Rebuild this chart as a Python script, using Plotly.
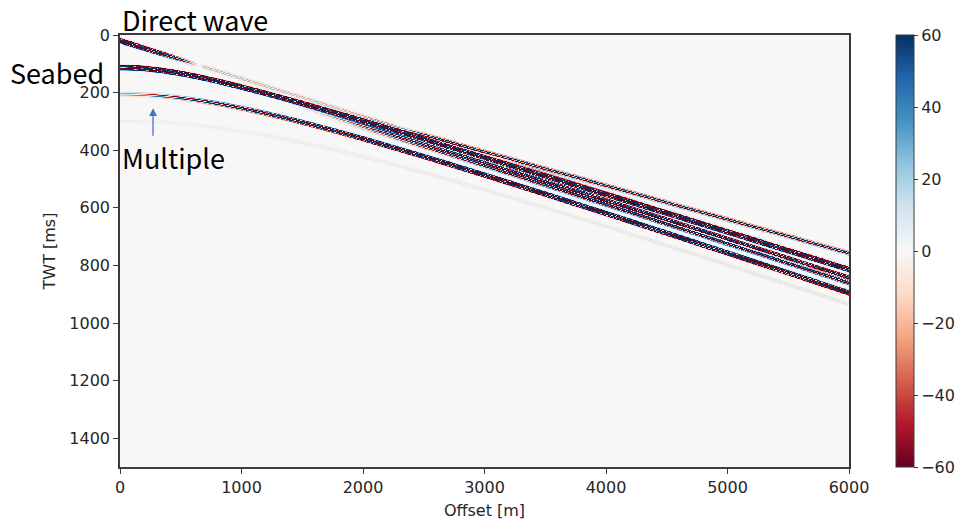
import numpy as np
import plotly.graph_objects as go

# ---- acquisition grid -------------------------------------------------------
offset_max = 6000.0          # m
twt_max = 1500.0             # ms
d_offset = 10.0              # m
d_twt = 1.0                  # ms

# ---- seismic events -----------------------------------------------------------
# kind: "lin" -> t = t0 + x / v ; "hyp" -> t = delay + sqrt(t0^2 + (x/v)^2)
event_names = ["direct", "head", "seabed", "sub1", "sub2", "multiple", "multiple2"]
event_kind = ["lin", "lin", "hyp", "hyp", "hyp", "hyp", "hyp"]
event_t0 = [17.0, 51.0, 93.0, 110.0, 125.0, 186.0, 279.0]          # ms
event_vel = [7600.0, 8520.0, 7600.0, 7347.0, 7214.0, 7009.0, 6877.0]  # m/s
event_delay = [0.0, 0.0, 17.0, 17.0, 17.0, 17.0, 17.0]              # ms
# signed amplitude at near / far offset and offset where the far value is reached
event_amp_near = [300.0, 0.0, 300.0, 0.0, 0.0, -22.0, -5.0]
event_amp_far = [-22.0, 70.0, 260.0, 150.0, 120.0, -240.0, -12.0]
event_amp_x = [700.0, 2500.0, 6000.0, 4000.0, 4000.0, 3000.0, 6000.0]
event_start = [0.0, 1800.0, 0.0, 1200.0, 1500.0, 0.0, 0.0]          # m

wavelet_freq = 95.0    # Hz
ghost_lag = 6.0        # ms
ghost_ratio = 0.8

offsets = np.arange(0.0, offset_max + d_offset, d_offset)
twt = np.arange(0.0, twt_max + d_twt, d_twt)


def ricker(tau_ms, f):
    a = (np.pi * f * tau_ms / 1000.0) ** 2
    return (1.0 - 2.0 * a) * np.exp(-a)


def signature(tau_ms):
    return ricker(tau_ms, wavelet_freq) - ghost_ratio * ricker(tau_ms - ghost_lag, wavelet_freq)


gather = np.zeros((twt.size, offsets.size), dtype=np.float64)
for kind, t0, v, dl, an, af, ax, xs in zip(event_kind, event_t0, event_vel, event_delay,
                                          event_amp_near, event_amp_far, event_amp_x,
                                          event_start):
    x = offsets
    if kind == "lin":
        t_ev = t0 + 1000.0 * x / v
    else:
        t_ev = dl + np.sqrt(t0 ** 2 + (1000.0 * x / v) ** 2)
    frac = np.clip((x - xs) / max(ax - xs, 1.0), 0.0, 1.0)
    amp = an + (af - an) * frac
    amp = np.where(x >= xs, amp, 0.0)
    # taper the onset of events that emerge at larger offsets
    if xs > 0:
        amp *= np.clip((x - xs) / 600.0, 0.0, 1.0)
    gather += amp[None, :] * signature(twt[:, None] - t_ev[None, :])

rdbu = ['rgb(103,0,31)', 'rgb(178,24,43)', 'rgb(214,96,77)', 'rgb(244,165,130)',
        'rgb(253,219,199)', 'rgb(247,247,247)', 'rgb(209,229,240)', 'rgb(146,197,222)',
        'rgb(67,147,195)', 'rgb(33,102,172)', 'rgb(5,48,97)']
colorscale = [[i / (len(rdbu) - 1), c] for i, c in enumerate(rdbu)]

tick_font = dict(family="DejaVu Sans", size=16, color="#262626")
axis_color = "#3a3a3a"

fig = go.Figure()
fig.add_trace(go.Heatmap(
    x=offsets, y=twt, z=gather.astype(np.float32),
    zmin=-60, zmax=60, colorscale=colorscale,
    showscale=True, hoverinfo="skip",
    colorbar=dict(
        x=896 / 971, xanchor="left", xref="container", xpad=0,
        y=0.5, yanchor="middle", len=1.0, lenmode="fraction", ypad=0,
        thickness=18, outlinecolor=axis_color, outlinewidth=1,
        tickvals=[-60, -40, -20, 0, 20, 40, 60],
        ticks="outside", ticklen=4, tickcolor=axis_color,
        tickfont=tick_font,
    ),
))

fig.update_xaxes(
    range=[0, 6000], tickvals=[0, 1000, 2000, 3000, 4000, 5000, 6000],
    ticks="outside", ticklen=5, tickcolor=axis_color, tickfont=tick_font,
    showline=True, linecolor=axis_color, linewidth=1.5, mirror=True,
    showgrid=False, zeroline=False,
    title=dict(text="Offset [m]", font=tick_font, standoff=9),
)
fig.update_yaxes(
    range=[1500, 0], tickvals=[0, 200, 400, 600, 800, 1000, 1200, 1400],
    ticks="outside", ticklen=5, tickcolor=axis_color, tickfont=tick_font,
    showline=True, linecolor=axis_color, linewidth=1.5, mirror=True,
    showgrid=False, zeroline=False,
    title=dict(text="TWT [ms]", font=tick_font, standoff=10),
)

label_font = dict(family="Noto Sans CJK KR, Noto Sans", size=27, color="black")
fig.add_annotation(text="Direct wave", xref="paper", yref="paper", x=0.0, y=1.035,
                   xanchor="left", yanchor="middle", showarrow=False, font=label_font)
fig.add_annotation(text="Seabed", xref="paper", yref="paper", x=-0.0864, y=0.913,
                   xanchor="center", yanchor="middle", showarrow=False, font=label_font)
fig.add_annotation(text="Multiple", xref="paper", yref="paper", x=0.0, y=0.717,
                   xanchor="left", yanchor="middle", showarrow=False, font=label_font)
fig.add_annotation(x=272, y=254, ax=272, ay=355, xref="x", yref="y", axref="x", ayref="y",
                   text="", showarrow=True, arrowhead=2, arrowsize=1.2, arrowwidth=1.3,
                   arrowcolor="#4472C4")

fig.update_layout(
    width=971, height=522,
    margin=dict(l=120, r=122, t=35, b=55, autoexpand=False),
    paper_bgcolor="white", plot_bgcolor="white",
    showlegend=False,
)

fig.write_html("out.html")
